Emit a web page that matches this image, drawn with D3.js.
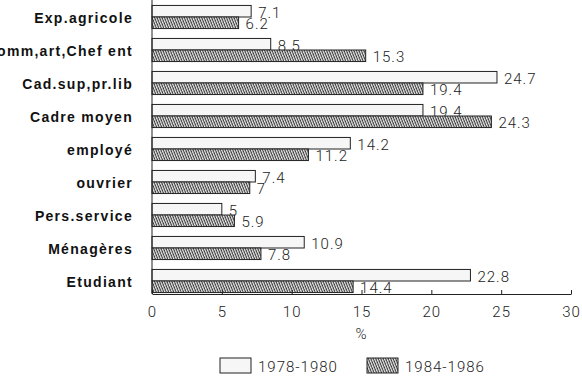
<!DOCTYPE html>
<html>
<head>
<meta charset="utf-8">
<script src="https://cdn.jsdelivr.net/npm/d3@7"></script>
<style>
  body { margin: 0; background: #fff; }
  svg { display: block; }
  .cat { font-family: "Liberation Sans", Arial, sans-serif; font-weight: bold; font-size: 14px; letter-spacing: 1.3px; fill: #111; }
  .num { font-family: Roboto, "Liberation Sans", sans-serif; font-weight: 300; font-size: 15px; letter-spacing: 1px; fill: #222; }
</style>
</head>
<body>
<svg width="582" height="388"></svg>
<script>
const categories = ["Exp.agricole", "Comm,art,Chef ent", "Cad.sup,pr.lib", "Cadre moyen",
  "employé", "ouvrier", "Pers.service", "Ménagères", "Etudiant"];
const series = ["1978-1980", "1984-1986"];
const values1978 = [7.1, 8.5, 24.7, 19.4, 14.2, 7.4, 5, 10.9, 22.8];
const values1984 = [6.2, 15.3, 19.4, 24.3, 11.2, 7, 5.9, 7.8, 14.4];
const xTicks = [0, 5, 10, 15, 20, 25, 30];

const svg = d3.select("svg");

const defs = svg.append("defs");
defs.append("pattern")
    .attr("id", "hatch")
    .attr("patternUnits", "userSpaceOnUse")
    .attr("width", 2.3)
    .attr("height", 6)
    .attr("patternTransform", "rotate(-22)")
  .call(p => {
    p.append("rect").attr("width", 2.3).attr("height", 6).attr("fill", "#fafafa");
    p.append("line")
      .attr("x1", 1).attr("x2", 1).attr("y1", 0).attr("y2", 6)
      .attr("stroke", "#3a3a3a").attr("stroke-width", 1.2);
  });

const x = d3.scaleLinear().domain([0, 30]).range([152, 571]);
const y = d3.scaleBand().domain(categories).range([0.5, 297.5])
    .paddingInner(0.3).paddingOuter(0.15);
const axisY = 294;
const half = y.bandwidth() / 2;

// category labels
svg.append("g")
  .selectAll("text")
  .data(categories)
  .join("text")
    .attr("class", "cat")
    .attr("x", 133)
    .attr("y", d => y(d) + half + 6)
    .attr("text-anchor", "end")
    .text(d => d);

const rows = categories.map((c, i) => ({ c, a: values1978[i], b: values1984[i] }));

// 1978-1980 bars
svg.append("g")
  .selectAll("rect")
  .data(rows)
  .join("rect")
    .attr("x", x(0))
    .attr("y", d => y(d.c))
    .attr("width", d => x(d.a) - x(0))
    .attr("height", half)
    .attr("fill", "#f6f6f6")
    .attr("stroke", "#222")
    .attr("stroke-width", 1);

svg.append("g")
  .selectAll("text")
  .data(rows)
  .join("text")
    .attr("class", "num")
    .attr("x", d => x(d.a) + 7)
    .attr("y", d => y(d.c) + half / 2 + 7)
    .text(d => d.a);

// 1984-1986 bars
svg.append("g")
  .selectAll("rect")
  .data(rows)
  .join("rect")
    .attr("x", x(0))
    .attr("y", d => y(d.c) + half)
    .attr("width", d => x(d.b) - x(0))
    .attr("height", half)
    .attr("fill", "url(#hatch)")
    .attr("stroke", "#222")
    .attr("stroke-width", 1);

svg.append("g")
  .selectAll("text")
  .data(rows)
  .join("text")
    .attr("class", "num")
    .attr("x", d => x(d.b) + 7)
    .attr("y", d => y(d.c) + half * 1.5 + 6)
    .text(d => d.b);

// axes
svg.append("line")
    .attr("x1", x(0)).attr("x2", x(0))
    .attr("y1", 0).attr("y2", axisY)
    .attr("stroke", "#222");

const xAxis = svg.append("g")
    .attr("transform", `translate(0,${axisY})`)
    .call(d3.axisBottom(x).tickValues(xTicks).tickSizeInner(-4).tickSizeOuter(0).tickPadding(12));
xAxis.select(".domain").attr("stroke", "#222");
xAxis.selectAll(".tick line").attr("stroke", "#222");
xAxis.selectAll(".tick text").attr("class", "num").attr("fill", null);
xAxis.attr("font-family", null).attr("font-size", null);

svg.append("text")
    .attr("class", "num")
    .attr("x", x(15))
    .attr("y", 339)
    .attr("text-anchor", "middle")
    .text("%");

// legend
const legend = svg.append("g")
  .selectAll("g")
  .data(series)
  .join("g")
    .attr("transform", (d, i) => `translate(${220 + i * 147},358)`);
legend.append("rect")
    .attr("width", 31).attr("height", 15)
    .attr("fill", (d, i) => i ? "url(#hatch)" : "#f6f6f6")
    .attr("stroke", "#222");
legend.append("text")
    .attr("class", "num")
    .attr("x", 38).attr("y", 13.5)
    .text(d => d);
</script>
</body>
</html>
